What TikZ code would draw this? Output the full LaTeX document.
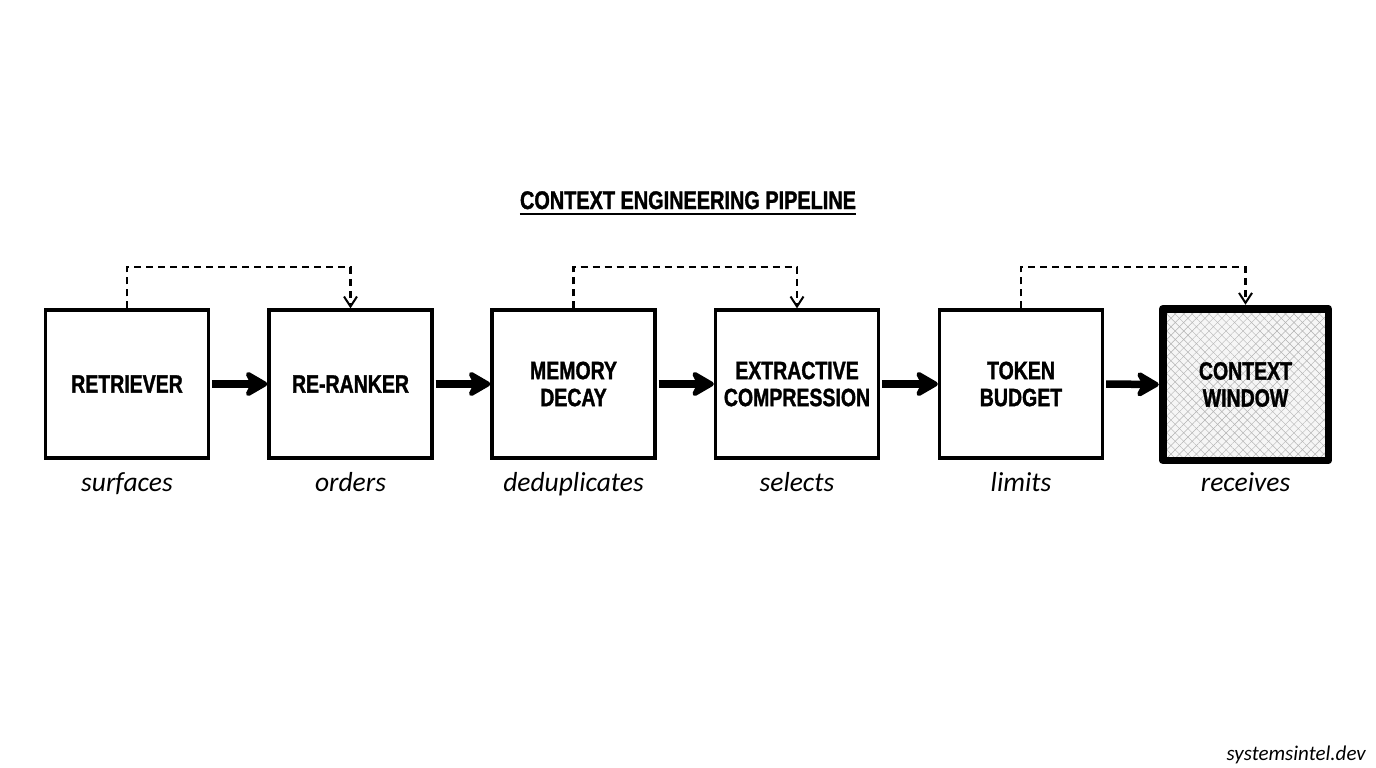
\documentclass[tikz,border=0pt]{standalone}
\usepackage{fontspec}
\usetikzlibrary{arrows.meta,patterns.meta,calc}
\newfontfamily\condfont[FakeStretch=0.78,FakeBold=1.3]{Liberation Sans}
\newfontfamily\handfont{Carlito}
\tikzset{
  stage/.style={draw=black, line width=3.3pt, fill=white, minimum width=163pt, minimum height=148pt,
    inner sep=0pt, align=center, font=\condfont\bfseries\fontsize{25}{27}\selectfont},
  finalstage/.style={stage, line width=7.5pt, minimum width=158pt, minimum height=144pt},
  bigarrow/.style={line width=7.5pt, -{Stealth[length=27pt, width=31pt, inset=8pt, round]}, shorten <=2pt},
  skiplink/.style={line width=2.2pt, dash pattern=on 7pt off 5pt, -{Straight Barb[length=10pt,width=13pt,line width=2pt]}},
  caption/.style={font=\handfont\itshape\fontsize{27.5}{30}\selectfont, anchor=base, inner sep=0pt},
}
\begin{document}
\begin{tikzpicture}[x=1pt,y=-1pt]
\useasboundingbox (0,0) rectangle (1376,768);
\node[anchor=base, inner sep=0pt, font=\condfont\bfseries\fontsize{25.5}{28}\selectfont] (title) at (688,209) {CONTEXT ENGINEERING PIPELINE};
\draw[line width=1.8pt] ([yshift=-5pt]title.base west) -- ([yshift=-5pt]title.base east);

\node[stage] (b1) at (127,384) {RETRIEVER};
\node[stage] (b2) at (350.5,384) {RE-RANKER};
\node[stage] (b3) at (573.5,384) {MEMORY\\DECAY};
\node[stage] (b4) at (797,384) {EXTRACTIVE\\COMPRESSION};
\node[stage] (b5) at (1021,384) {TOKEN\\BUDGET};
\begin{scope}
\node[finalstage] (b6) at (1245.5,384.5) {};
\fill[gray!7] (b6.south west) rectangle (b6.north east);
\fill[pattern={Lines[angle=45,distance=6pt,line width=0.45pt]}, pattern color=gray!60] (b6.south west) rectangle (b6.north east);
\fill[pattern={Lines[angle=-45,distance=6pt,line width=0.45pt]}, pattern color=gray!60] (b6.south west) rectangle (b6.north east);
\draw[line width=7.5pt, line join=round] (b6.south west) rectangle (b6.north east);
\node[align=center, font=\condfont\bfseries\fontsize{25}{27}\selectfont] (b6t) at (b6.center) {CONTEXT\\WINDOW};
\end{scope}

\draw[bigarrow] (b1.east) -- (b2.west);
\draw[bigarrow] (b2.east) -- (b3.west);
\draw[bigarrow] (b3.east) -- (b4.west);
\draw[bigarrow] (b4.east) -- (b5.west);
\draw[bigarrow] (b5.east) -- ([xshift=-4pt]b6.west);

\draw[skiplink] (b1.north) -- ++(0,-41) -| (b2.north);
\draw[skiplink] (b3.north) -- ++(0,-41) -| (b4.north);
\draw[skiplink] (b5.north) -- ++(0,-41) -| ([yshift=4pt]b6.north);

\node[caption] (c1) at (127,491) {surfaces};
\node[caption] (c2) at (350.5,491) {orders};
\node[caption] (c3) at (573.5,491) {deduplicates};
\node[caption] (c4) at (797,491) {selects};
\node[caption] (c5) at (1021,491) {limits};
\node[caption] (c6) at (1245.5,491) {receives};

\node[anchor=base east, inner sep=0pt, font=\handfont\itshape\fontsize{21}{24}\selectfont] (wm) at (1366,760) {systemsintel.dev};
\end{tikzpicture}
\end{document}
